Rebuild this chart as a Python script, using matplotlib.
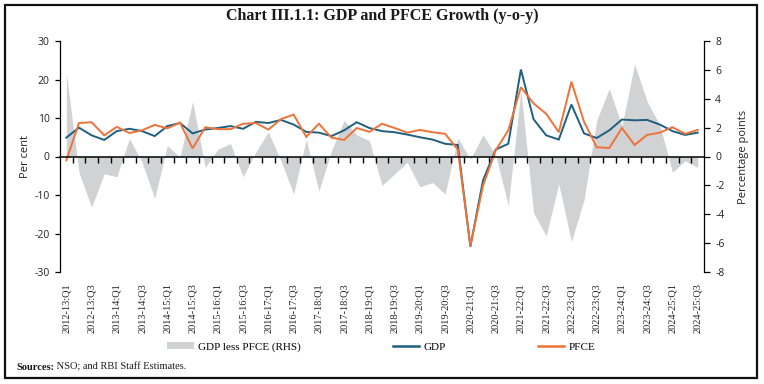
import matplotlib
matplotlib.use("Agg")
import matplotlib.pyplot as plt
from matplotlib.patches import Rectangle, Patch
from matplotlib.lines import Line2D
import numpy as np

# ---------------- data ----------------
fiscal_years = ["2012-13", "2013-14", "2014-15", "2015-16", "2016-17", "2017-18",
                "2018-19", "2019-20", "2020-21", "2021-22", "2022-23", "2023-24", "2024-25"]
quarters = [f"{fy}:Q{q}" for fy in fiscal_years for q in (1, 2, 3, 4)][:51]

gdp = [4.9, 7.5, 5.5, 4.3, 6.6, 7.2, 6.6, 5.3, 7.9, 8.7,
       6.0, 7.0, 7.4, 7.9, 7.2, 9.0, 8.7, 9.5, 8.3, 6.4,
       6.2, 5.3, 6.8, 8.9, 7.4, 6.6, 6.3, 5.7, 5.0, 4.4,
       3.3, 3.0, -23.4, -6.2, 1.8, 3.3, 22.6, 9.7, 5.5, 4.4,
       13.5, 6.0, 4.8, 6.8, 9.6, 9.4, 9.5, 8.3, 6.6, 5.6, 6.2]
pfce = [-1.0, 8.7, 8.9, 5.5, 7.7, 6.1, 6.8, 8.2, 7.3, 8.8,
        2.1, 7.6, 7.1, 7.1, 8.5, 8.7, 7.0, 9.7, 10.9, 5.1,
        8.5, 4.9, 4.3, 7.4, 6.4, 8.5, 7.4, 6.2, 6.9, 6.3,
        5.9, 1.8, -23.2, -7.6, 1.6, 6.8, 18.0, 13.8, 11.1, 6.3,
        19.4, 9.0, 2.4, 2.2, 7.4, 3.0, 5.6, 6.2, 7.6, 5.9, 6.9]
gdp_less_pfce = [5.8, -1.1, -3.5, -1.2, -1.4, 1.25, -0.4, -2.9, 0.75, -0.05,
                 3.8, -0.75, 0.5, 0.9, -1.4, 0.3, 1.7, -0.3, -2.6, 1.2,
                 -2.4, 0.4, 2.5, 1.5, 1.1, -2.0, -1.2, -0.4, -2.1, -1.8,
                 -2.6, 1.3, -0.2, 1.5, 0.1, -3.4, 4.6, -3.9, -5.5, -1.9,
                 -5.9, -3.0, 2.5, 4.7, 2.1, 6.4, 3.8, 2.2, -1.1, -0.3, -0.75]

left_ticks = [-30, -20, -10, 0, 10, 20, 30]
right_ticks = [-8, -6, -4, -2, 0, 2, 4, 6, 8]

# ---------------- style ----------------
C_GDP = "#1f5f7e"
C_PFCE = "#ee7338"
C_AREA = "#d1d2d4"
SERIF = "Liberation Serif"
SANS = "Open Sans"

W, H = 764, 384
fig = plt.figure(figsize=(W / 100, H / 100), dpi=100)

L, R, T, B = 60, 704, 41, 272
ax = fig.add_axes([L / W, 1 - B / H, (R - L) / W, (B - T) / H])
ax2 = ax.twinx()

x = np.arange(len(quarters))

# area on RHS
ax2.fill_between(x, 0, gdp_less_pfce, color=C_AREA, linewidth=0, zorder=1)
ax2.set_ylim(-8, 8)
ax2.set_yticks(right_ticks)
ax2.set_yticklabels([str(t) for t in right_ticks], fontfamily=SANS, fontsize=7.5, color="#222222")
for s in ["top", "bottom", "left"]:
    ax2.spines[s].set_visible(False)
ax2.spines["right"].set_linewidth(0.9)
ax2.tick_params(axis="y", direction="out", length=4, width=0.9, pad=4)
ax2.set_ylabel("Percentage points", fontfamily=SANS, fontsize=8, color="#222222", labelpad=9.5)

# lines on LHS, drawn above the area
ax.set_zorder(ax2.get_zorder() + 1)
ax.patch.set_visible(False)
ax.plot(x, gdp, color=C_GDP, lw=1.4, zorder=3, solid_joinstyle="miter")
ax.plot(x, pfce, color=C_PFCE, lw=1.4, zorder=4, solid_joinstyle="miter")
ax.set_ylim(-30, 30)
ax.set_xlim(-0.5, len(quarters) - 0.5)
ax.set_yticks(left_ticks)
ax.set_yticklabels([str(t) for t in left_ticks], fontfamily=SANS, fontsize=7.5, color="#222222")
ax.tick_params(axis="y", direction="out", length=3.5, width=0.9, pad=4)
ax.set_ylabel("Per cent", fontfamily=SANS, fontsize=8, color="#222222", labelpad=2.5)

for s in ["right", "bottom"]:
    ax.spines[s].set_visible(False)
ax.spines["left"].set_linewidth(0.9)
# zero line with category-boundary ticks
ax.spines["top"].set_position(("data", 0))
ax.spines["top"].set_linewidth(1.1)
ax.spines["top"].set_zorder(5)

ax.set_xticks(x[::2])
ax.set_xticklabels(quarters[::2], rotation=90, fontfamily=SERIF, fontsize=7.5, color="#222222")
ax.set_xticks(np.arange(len(quarters) - 1) + 0.5, minor=True)
ax.tick_params(axis="x", which="major", bottom=True, top=False, length=0, pad=8)
ax.tick_params(axis="x", which="minor", bottom=False, top=True, direction="in", length=4, width=1.0)

# title
fig.text(382 / W, 1 - 16 / H, "Chart III.1.1: GDP and PFCE Growth (y-o-y)", ha="center", va="center",
         fontfamily=SERIF, fontsize=11.5, fontweight="bold", color="#1a1a1a")

# legend
handles = [Patch(facecolor=C_AREA, edgecolor="none", label="GDP less PFCE (RHS)"),
           Line2D([], [], color=C_GDP, lw=1.8, label="GDP"),
           Line2D([], [], color=C_PFCE, lw=1.8, label="PFCE")]
fig.legend(handles=handles, loc="center", bbox_to_anchor=(381 / W, 1 - 347 / H), ncol=3,
           frameon=False, prop={"family": SERIF, "size": 8}, handlelength=2.4,
           handletextpad=0.35, columnspacing=8.3, handleheight=0.55)

# sources
t1 = fig.text(16 / W, 1 - 367 / H, "Sources:", ha="left", va="center", fontfamily=SERIF,
              fontsize=7.5, fontweight="bold", color="#1a1a1a")
fig.add_artist(matplotlib.text.Annotation(" NSO; and RBI Staff Estimates.", xy=(1, 0.5), xycoords=t1,
                                          va="center", ha="left", fontfamily=SERIF, fontsize=7.5,
                                          color="#1a1a1a", annotation_clip=False))

# frame
fig.patches.append(Rectangle((5 / W, 1 - 378 / H), 752 / W, 373 / H, transform=fig.transFigure,
                             fill=False, edgecolor="#111111", linewidth=1.6, figure=fig))

fig.savefig("out.png", dpi=100)
